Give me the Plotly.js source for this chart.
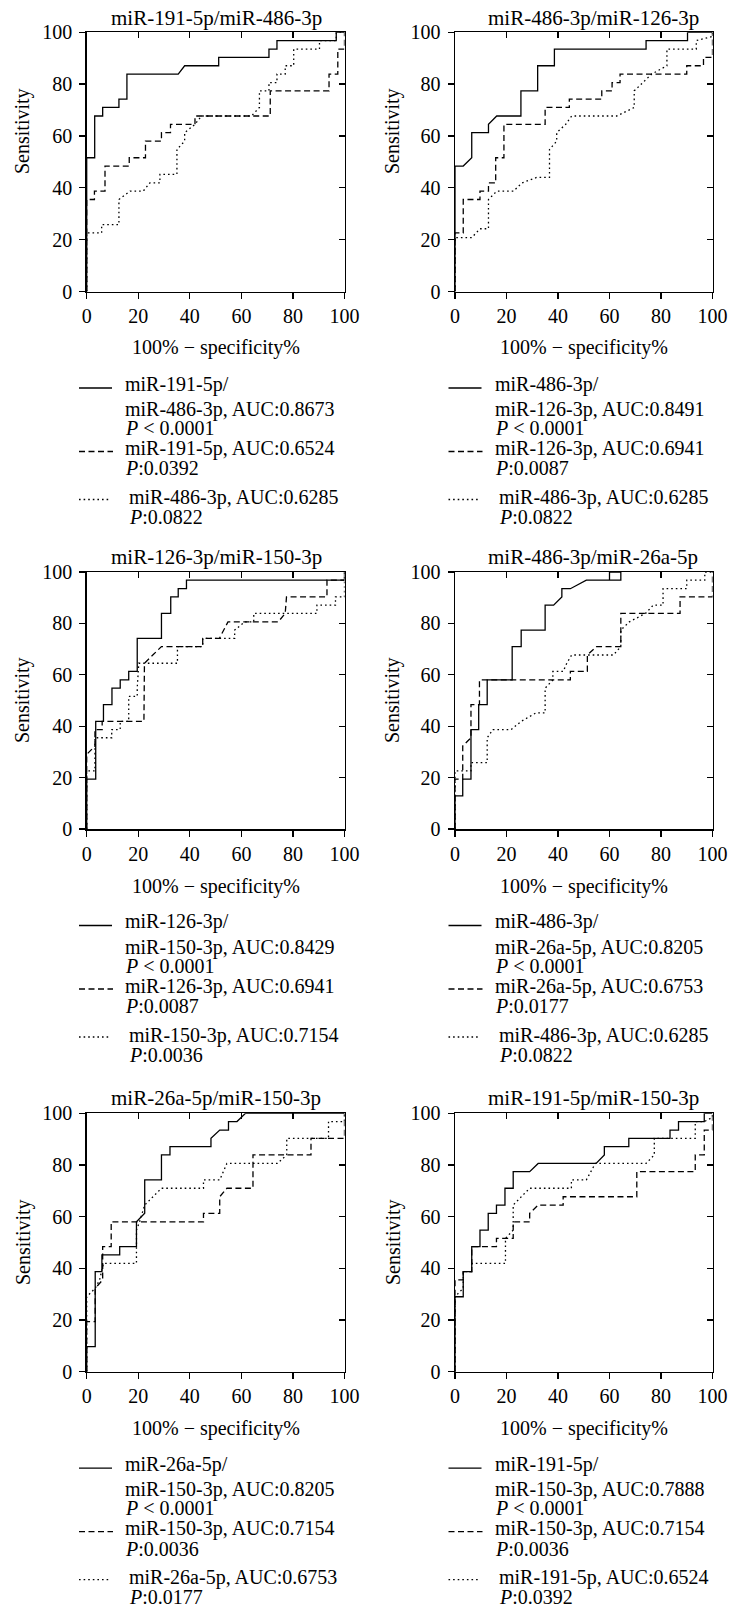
<!DOCTYPE html>
<html><head><meta charset="utf-8">
<script src="https://cdn.plot.ly/plotly-3.0.1.min.js"></script>
<style>html,body{margin:0;padding:0;background:#fff}</style>
</head><body><div id="chart" style="width:729px;height:1610px"></div>
<script>
// ---------- data ----------
const panelTitles = ["miR-191-5p/miR-486-3p","miR-486-3p/miR-126-3p","miR-126-3p/miR-150-3p","miR-486-3p/miR-26a-5p","miR-26a-5p/miR-150-3p","miR-191-5p/miR-150-3p"];
const tickValues = [0,20,40,60,80,100];
const xAxisTitle = "100% \u2212 specificity%";
const yAxisTitle = "Sensitivity";

const p1SolidX = [0,0,3.1,3.1,6.2,6.2,12.5,12.5,15.6,15.6,35.5,38,51.2,51.2,70.7,70.7,73.8,73.8,96.8,96.8,100];
const p1SolidY = [0,51.6,51.6,67.7,67.7,71,71,74.2,74.2,83.9,83.9,87.1,87.1,90.3,90.3,93.5,93.5,96.8,96.8,100,100];
const p1DashX = [0,0,3,3,7.1,7.1,16.5,16.5,22.8,22.8,29,29,32.5,32.5,42,42,71.2,71.2,94,94,97.4,97.4,100,100];
const p1DashY = [0,35.5,35.5,38.7,38.7,48.4,48.4,51.6,51.6,58,58,61.3,61.3,64.5,64.5,67.7,67.7,77.4,77.4,83.9,83.9,93.5,93.5,100];
const p1DotX = [0,0,5.8,5.8,12.5,12.5,16.8,21.9,24.5,28.4,28.4,35,35,38,38,42,44.5,63.9,67,67,70.7,70.7,73.8,73.8,77,77,80.3,80.3,90.3,90.3,96.8,96.8,100];
const p1DotY = [0,22.6,22.6,25.8,25.8,35.5,38.7,38.7,41.9,41.9,45.2,45.2,54.8,58,61.3,64.5,67.7,67.7,71,77.4,77.4,80.6,80.6,83.9,83.9,87.1,87.1,93.5,93.5,96.8,96.8,100,100];

const p2SolidX = [0,0,3.2,6.5,6.5,13,13,16.2,25.6,25.6,32.1,32.1,38.6,38.6,74.2,74.2,90.3,90.3,100];
const p2SolidY = [0,48.4,48.4,51.6,61.3,61.3,64.5,67.7,67.7,77.4,77.4,87.1,87.1,93.5,93.5,96.8,96.8,100,100];
const p2DashX = [0,0,3.2,3.2,9.7,9.7,13,13,15.8,15.8,19,19,35,35,44.4,44.4,57,57,61,61,64.1,64.1,90,90,96.5,96.5,100,100];
const p2DashY = [0,22.6,22.6,35.5,35.5,38.7,38.7,41.9,41.9,51.6,51.6,64.5,64.5,71,71,74.2,74.2,77.4,77.4,80.6,80.6,83.9,83.9,87.1,87.1,90.3,90.3,100];
const p2DotX = [0,0,6.5,9.7,13,13,16.2,22.7,26,31.7,36.7,36.7,39.5,39.5,43,45.3,62.8,69.6,69.6,73,76.4,82.3,82.3,93.7,93.7,100,100];
const p2DotY = [0,20.8,20.8,24.2,24.2,35.5,38.7,38.7,41.9,44,44,54.8,58,61.3,64.5,67.7,67.7,71,77.4,80.6,83.9,87.1,93.5,93.5,96.8,98.4,100];

const p3SolidX = [0,0,3.5,3.5,6.5,6.5,9.8,9.8,13,13,16.3,16.3,19.6,19.6,29,29,32.6,32.6,35.5,35.5,38.7,38.7,100,100];
const p3SolidY = [0,19.4,19.4,41.9,41.9,48.4,48.4,54.8,54.8,58,58,61.3,61.3,74.2,74.2,83.9,83.9,90.3,90.3,93.5,93.5,96.8,96.8,100];
const p3DashX = [0,0,3.2,3.2,6,6,22.2,22.2,22.4,29,45,45,51.5,54.8,74.3,77,77.5,93.2,93.2,100];
const p3DashY = [0,29,32.3,38.7,38.7,41.9,41.9,54.8,64.5,71,71,74.2,74.2,80.6,80.6,83.9,90.3,90.3,96.8,96.8];
const p3DotX = [0,0,3.2,3.2,9.7,9.7,13,13,16.3,16.3,19.6,19.6,20.2,35.2,35.2,45,45,57.4,57.4,61.3,64.8,64.8,89.3,89.3,96.5,96.5,100,100];
const p3DotY = [0,22.6,22.6,35.5,35.5,38.7,38.7,41.9,41.9,51.6,51.6,54.8,64.5,64.5,71,71,74.2,74.2,77.4,80.6,80.6,83.9,83.9,87.1,87.1,90.3,90.3,100];

const p4SolidX = [0,0,3,3,6.2,6.2,9.2,9.2,12.5,12.5,22.2,22.2,25.7,25.7,35,35,38.3,41.5,41.5,44.8,51,64.4,64.4,60,60];
const p4SolidY = [0,12.9,12.9,19.4,19.4,38.7,38.7,48.4,48.4,58,58,71,71,77.4,77.4,87.1,87.1,90.3,93.5,93.5,96.8,96.8,100,100,96.8];
const p4DashX = [0,0,3,3,6.2,6.2,9.5,9.5,44.8,44.8,51.4,51.4,55,64.4,64.4,87.4,87.4,100,100];
const p4DashY = [0,19.4,19.4,32.3,35.5,48.4,48.4,58,58,61.3,61.3,67.7,71,71,83.9,83.9,90.3,90.3,100];
const p4DotX = [0,0,6.2,6.2,12.5,12.5,14.7,21.8,25.7,31.5,35,35,38,38,42,43.4,45.3,61.5,64.4,64.4,67.7,74,77,80.8,80.8,90,90,97,97,100];
const p4DotY = [0,22.6,22.6,25.8,25.8,35.5,38.7,38.7,41.9,45.2,45.2,54.8,58,61.3,61.3,64.5,67.7,67.7,71,77.4,80.6,83.9,87.1,87.1,93.5,93.5,96.8,96.8,100,100];

const p5SolidX = [0,0,3.3,3.3,5.9,5.9,12.8,12.8,19.3,19.3,22.5,22.5,29,29,32.3,32.3,48.2,48.2,51.6,55,55,58.3,61.6,100];
const p5SolidY = [0,9.7,9.7,38.7,38.7,45.2,45.2,48.4,48.4,58,61.3,74.2,74.2,83.9,83.9,87.1,87.1,90.3,93.5,93.5,96.8,96.8,100,100];
const p5DashX = [0,0,3.3,3.3,6.2,6.2,9.5,9.5,45.3,45.3,51.6,51.6,54.4,64.5,64.5,87,87,100,100];
const p5DashY = [0,19.4,19.4,32.3,35.5,48.4,48.4,58,58,61.3,61.3,67.7,71,71,83.9,83.9,90.3,90.3,100];
const p5DotX = [0,0,3.3,5,6.5,19.3,19.3,20.5,22.5,29,45.3,45.3,51.6,54.4,74,77.6,77.6,93.8,93.8,100,100];
const p5DotY = [0,29,32.3,35.5,41.9,41.9,54.8,58,64.5,71,71,74.2,74.2,80.6,80.6,83.9,90.3,90.3,96.8,96.8,100];

const p6SolidX = [0,0,3.2,3.2,6.5,6.5,9.7,9.7,12.9,12.9,16.1,16.1,19.4,19.4,22.6,22.6,29,32.3,54.8,58,58,67.5,67.5,83.5,83.5,86.8,86.8,96.8,96.8,100];
const p6SolidY = [0,29,29,38.7,38.7,48.4,48.4,54.8,54.8,61.3,61.3,64.5,64.5,71,71,77.4,77.4,80.6,80.6,83.9,87.1,87.1,90.3,90.3,93.5,93.5,96.8,96.8,100,100];
const p6DashX = [0,0,3.2,3.2,6.5,6.5,16.1,16.1,22.6,22.6,29,29,32.3,42,42,70.6,70.6,93.3,93.3,96.8,96.8,100,100];
const p6DashY = [0,35.5,35.5,38.7,38.7,48.4,48.4,51.6,51.6,58,58,61.3,64.5,64.5,67.7,67.7,77.4,77.4,83.9,83.9,93.5,93.5,100];
const p6DotX = [0,0,3.2,3.2,6.5,6.5,19.6,19.6,22.6,22.6,29,45.2,45.2,51,54.5,74.2,77.4,77.4,93.3,93.3,96.8,100,100];
const p6DotY = [0,29,32.3,38.7,38.7,41.9,41.9,51.6,54.8,64.5,71,71,74.2,74.2,80.6,80.6,83.9,90.3,90.3,96.8,96.8,98.4,100];

const legendLines = [
  ["miR-191-5p/","miR-486-3p, AUC:0.8673","<i>P</i> &lt; 0.0001","miR-191-5p, AUC:0.6524","<i>P</i>:0.0392","miR-486-3p, AUC:0.6285","<i>P</i>:0.0822"],
  ["miR-486-3p/","miR-126-3p, AUC:0.8491","<i>P</i> &lt; 0.0001","miR-126-3p, AUC:0.6941","<i>P</i>:0.0087","miR-486-3p, AUC:0.6285","<i>P</i>:0.0822"],
  ["miR-126-3p/","miR-150-3p, AUC:0.8429","<i>P</i> &lt; 0.0001","miR-126-3p, AUC:0.6941","<i>P</i>:0.0087","miR-150-3p, AUC:0.7154","<i>P</i>:0.0036"],
  ["miR-486-3p/","miR-26a-5p, AUC:0.8205","<i>P</i> &lt; 0.0001","miR-26a-5p, AUC:0.6753","<i>P</i>:0.0177","miR-486-3p, AUC:0.6285","<i>P</i>:0.0822"],
  ["miR-26a-5p/","miR-150-3p, AUC:0.8205","<i>P</i> &lt; 0.0001","miR-150-3p, AUC:0.7154","<i>P</i>:0.0036","miR-26a-5p, AUC:0.6753","<i>P</i>:0.0177"],
  ["miR-191-5p/","miR-150-3p, AUC:0.7888","<i>P</i> &lt; 0.0001","miR-150-3p, AUC:0.7154","<i>P</i>:0.0036","miR-191-5p, AUC:0.6524","<i>P</i>:0.0392"]
];

const series = [
  [[p1SolidX,p1SolidY],[p1DashX,p1DashY],[p1DotX,p1DotY]],
  [[p2SolidX,p2SolidY],[p2DashX,p2DashY],[p2DotX,p2DotY]],
  [[p3SolidX,p3SolidY],[p3DashX,p3DashY],[p3DotX,p3DotY]],
  [[p4SolidX,p4SolidY],[p4DashX,p4DashY],[p4DotX,p4DotY]],
  [[p5SolidX,p5SolidY],[p5DashX,p5DashY],[p5DotX,p5DotY]],
  [[p6SolidX,p6SolidY],[p6DashX,p6DashY],[p6DotX,p6DotY]]
];

// ---------- layout geometry (pixels) ----------
const W = 729, H = 1610;
const X = px => px / W;
const Y = py => 1 - py / H;
const colPx = [[86.7, 344.5], [455, 712.5]];
const rowPx = [[32.3, 291.5], [572, 829], [1113.3, 1371.7]];
const titleY = [18, 557, 1098];
const titleX = [216, 593];
const yTitleX = [23, 393];
const yTitleY = [131, 700, 1242];
const xTitleY = [347, 886, 1428];
const legendOffsets = [92.5, 118, 136.5, 157, 177, 206, 225.5];
const FONT = "'Liberation Serif', 'Times New Roman', Times, serif";
const dashes = ["solid", "6px,3.5px", "1.6px,3px"];

const traces = [];
const layout = {
  width: W, height: H, margin: {l:0, r:0, t:0, b:0},
  paper_bgcolor: "#fff", plot_bgcolor: "#fff", showlegend: false,
  font: {family: FONT, color: "#000", size: 20},
  annotations: [], shapes: []
};

function axName(i){ return i === 1 ? "" : String(i); }

for (let k = 0; k < 6; k++) {
  const col = k % 2, row = Math.floor(k / 2);
  const i = k + 1, j = k + 7;
  const xd = [X(colPx[col][0]), X(colPx[col][1])];
  const yd = [Y(rowPx[row][1]), Y(rowPx[row][0])];
  const base = {
    range: [0, 100], tickvals: tickValues, showgrid: false, zeroline: false,
    showline: true, linecolor: "#000", linewidth: 1.5,
    tickcolor: "#000", tickwidth: 1.3, ticklen: 6, fixedrange: true
  };
  layout["xaxis" + axName(i)] = Object.assign({}, base, {
    domain: xd, anchor: "y" + axName(i), ticks: "outside",
    tickfont: {family: FONT, size: 20, color: "#000"}, ticklabelstandoff: 0
  });
  layout["yaxis" + axName(i)] = Object.assign({}, base, {
    domain: yd, anchor: "x" + axName(i), ticks: "outside",
    tickfont: {family: FONT, size: 20, color: "#000"}, ticklabelstandoff: 3
  });
  layout["xaxis" + j] = Object.assign({}, base, {
    overlaying: "x" + axName(i), side: "top", anchor: "y" + axName(i),
    ticks: "inside", showticklabels: false
  });
  layout["yaxis" + j] = Object.assign({}, base, {
    overlaying: "y" + axName(i), side: "right", anchor: "x" + axName(i),
    ticks: "inside", showticklabels: false
  });
  series[k].forEach((s, n) => {
    traces.push({
      type: "scatter", mode: "lines", x: s[0], y: s[1],
      xaxis: "x" + axName(i), yaxis: "y" + axName(i),
      line: {color: "#000", width: 1.3, dash: dashes[n]},
      hoverinfo: "skip", showlegend: false
    });
  });
  traces.push({type: "scatter", mode: "lines", x: [], y: [], xaxis: "x" + j, yaxis: "y" + j, hoverinfo: "skip", showlegend: false});

  layout.annotations.push({text: panelTitles[k], xref: "paper", yref: "paper", x: X(titleX[col]), y: Y(titleY[row]),
    xanchor: "center", yanchor: "middle", showarrow: false, font: {family: FONT, size: 21, color: "#000"}});
  layout.annotations.push({text: yAxisTitle, xref: "paper", yref: "paper", x: X(yTitleX[col]), y: Y(yTitleY[row]),
    xanchor: "center", yanchor: "middle", textangle: -90, showarrow: false, font: {family: FONT, size: 20, color: "#000"}});
  layout.annotations.push({text: xAxisTitle, xref: "paper", yref: "paper", x: (xd[0] + xd[1]) / 2, y: Y(xTitleY[row]),
    xanchor: "center", yanchor: "middle", showarrow: false, font: {family: FONT, size: 20, color: "#000"}});

  const off = col * 369.5;
  const yb = rowPx[row][1];
  legendLines[k].forEach((t, m) => {
    const tx = (m >= 5 ? 127 : 123) + off;
    layout.annotations.push({text: t, xref: "paper", yref: "paper", x: X(tx), y: Y(yb + legendOffsets[m]),
      xanchor: "left", yanchor: "middle", showarrow: false, font: {family: FONT, size: 20, color: "#000"}});
  });
  const keyRows = [yb + legendOffsets[0] + 4, yb + legendOffsets[3] + 3, yb + legendOffsets[5] + 2];
  const keyEnds = [112, 113, 110];
  keyRows.forEach((ky, n) => {
    layout.shapes.push({type: "line", xref: "paper", yref: "paper", x0: X(79 + off), x1: X(keyEnds[n] + off),
      y0: Y(ky), y1: Y(ky), line: {color: "#000", width: 1.3, dash: dashes[n]}});
  });
}

Plotly.newPlot("chart", traces, layout, {staticPlot: true, displayModeBar: false});
</script></body></html>
